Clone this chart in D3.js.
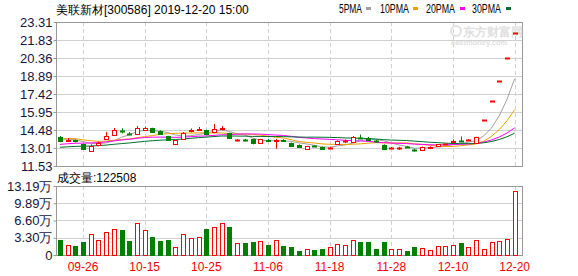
<!DOCTYPE html>
<html>
<head>
<meta charset="utf-8">
<script src="https://cdn.jsdelivr.net/npm/d3@7"></script>
<style>
  body { margin: 0; background: #fff; }
  svg { display: block; }
  text { font-family: "Liberation Sans", Arial, sans-serif; }
</style>
</head>
<body>
<div id="chart"></div>
<script>
const WIDTH = 578;
const HEIGHT = 276;

const PLOT = { left: 56, right: 522, barsRight: 518.5 };
const PRICE_BOX = { top: 22, bottom: 166 };
const VOL_BOX = { top: 186, bottom: 255 };

// trading days shown
const dates = [
  "09-23", "09-24", "09-25", "09-26", "09-27", "09-30", "10-08", "10-09", "10-10", "10-11",
  "10-14", "10-15", "10-16", "10-17", "10-18", "10-21", "10-22", "10-23", "10-24", "10-25",
  "10-28", "10-29", "10-30", "10-31", "11-01", "11-04", "11-05", "11-06", "11-07", "11-08",
  "11-11", "11-12", "11-13", "11-14", "11-15", "11-18", "11-19", "11-20", "11-21", "11-22",
  "11-25", "11-26", "11-27", "11-28", "11-29", "12-02", "12-03", "12-04", "12-05", "12-06",
  "12-09", "12-10", "12-11", "12-12", "12-13", "12-16", "12-17", "12-18", "12-19", "12-20"
];

const opens = [
  13.90, 13.62, 13.62, 13.30, 12.78, 13.20, 13.75, 14.06, 14.42, 14.20,
  14.17, 14.50, 14.62, 14.40, 13.95, 13.35, 13.72, 14.38, 14.50, 14.45,
  14.30, 14.60, 14.20, 13.62, 13.68, 13.70, 13.40, 13.65, 13.62, 13.65,
  13.40, 13.27, 12.90, 13.18, 13.10, 13.00, 13.38, 13.52, 13.50, 13.88,
  13.85, 13.58, 13.28, 12.98, 13.00, 13.12, 12.86, 12.84, 13.06, 13.12,
  13.26, 13.52, 13.58, 13.62, 13.40, 15.29, 16.82, 18.50, 20.35, 22.39
];
const highs = [
  13.98, 13.80, 13.70, 13.35, 13.30, 13.52, 14.30, 14.64, 14.62, 14.30,
  14.80, 14.75, 14.66, 14.45, 14.00, 13.68, 14.30, 14.60, 14.72, 14.50,
  14.96, 14.80, 14.25, 13.72, 13.75, 13.75, 13.75, 13.75, 13.75, 13.72,
  13.45, 13.30, 13.18, 13.22, 13.12, 13.10, 13.62, 13.70, 13.98, 14.10,
  13.90, 13.65, 13.30, 13.08, 13.10, 13.18, 12.95, 13.12, 13.14, 13.32,
  13.34, 13.70, 13.95, 13.72, 13.92, 15.29, 16.82, 18.50, 20.35, 22.39
];
const lows = [
  13.55, 13.55, 13.45, 12.85, 12.75, 13.15, 13.70, 14.00, 14.20, 14.05,
  14.15, 14.45, 14.25, 14.08, 13.58, 13.25, 13.70, 14.28, 14.40, 14.10,
  14.25, 14.45, 13.75, 13.55, 13.55, 13.30, 13.38, 13.52, 12.95, 13.50,
  13.12, 13.05, 12.88, 13.10, 12.88, 12.95, 13.35, 13.40, 13.45, 13.80,
  13.65, 13.45, 12.92, 12.90, 12.85, 13.02, 12.70, 12.80, 13.02, 13.10,
  13.22, 13.45, 13.54, 13.58, 13.38, 15.29, 16.82, 18.50, 20.35, 22.39
];
const closes = [
  13.60, 13.68, 13.57, 12.92, 13.18, 13.40, 14.00, 14.47, 14.38, 14.16,
  14.64, 14.66, 14.28, 14.12, 13.62, 13.65, 14.25, 14.44, 14.58, 14.15,
  14.55, 14.66, 13.80, 13.66, 13.64, 13.35, 13.72, 13.60, 13.68, 13.58,
  13.15, 13.10, 13.16, 13.14, 12.90, 13.04, 13.60, 13.56, 13.90, 13.86,
  13.70, 13.54, 12.94, 13.02, 13.04, 13.08, 12.82, 13.10, 13.12, 13.30,
  13.30, 13.58, 13.55, 13.66, 13.90, 15.29, 16.82, 18.50, 20.35, 22.39
];
// 1 = up day (red), 0 = down day (green)
const upDays = [
  0, 1, 0, 0, 1, 1, 1, 1, 0, 0, 1, 1, 0, 0, 0, 1, 1, 1, 1, 0,
  1, 1, 0, 1, 0, 0, 1, 0, 1, 0, 0, 0, 1, 0, 0, 1, 1, 1, 1, 0,
  0, 0, 0, 1, 1, 0, 0, 1, 1, 1, 1, 1, 0, 1, 1, 1, 1, 1, 1, 1
];
// volume in lots
const volumes = [
  28500, 18400, 17100, 24700, 39300, 28500, 43700, 48800, 46900, 26600,
  62100, 46900, 34200, 26600, 28500, 14600, 39300, 31700, 33600, 49500,
  52600, 62100, 53300, 22200, 22800, 24700, 26600, 19000, 27900, 17100,
  15200, 7600, 10800, 9500, 11400, 14600, 20900, 18400, 27900, 24700,
  24700, 11400, 24700, 10800, 10800, 7600, 14600, 12700, 8900, 16500,
  16500, 18400, 22200, 14600, 27900, 10800, 24700, 26000, 29800, 122508
];
// closes of the 29 sessions before 09-23, estimated from where the MA lines start
const priorCloses = [
  12.50, 12.55, 12.48, 12.60, 12.62, 12.55, 12.58, 12.65, 12.62, 12.65,
  12.70, 12.72, 12.80, 12.78, 12.85, 12.82, 12.90, 12.88, 12.95, 13.10,
  13.40, 13.70, 13.90, 13.85, 13.95, 13.80, 13.75, 13.70, 13.85
];

const priceTicks = [11.53, 13.01, 14.48, 15.95, 17.42, 18.89, 20.36, 21.83, 23.31];
const volTicks = [0, 33000, 66000, 98900, 131900];
const volTickLabels = ["0", "3.30万", "6.60万", "9.89万", "13.19万"];
const dateTicks = ["09-26", "10-15", "10-25", "11-06", "11-18", "11-28", "12-10", "12-20"];

const maPeriods = [5, 10, 20, 30];
const maNames = ["5PMA", "10PMA", "20PMA", "30PMA"];
const maColors = ["#a0a0a0", "#f0a000", "#ff00ff", "#00702e"];

const RED = "#ff0000";
const GREEN = "#008000";
const GRID = "#d0d0d0";
const FRAME_C = "#999999";
const LABEL_C = "#141440";

const svg = d3.select("#chart").append("svg")
  .attr("width", WIDTH)
  .attr("height", HEIGHT);

const X = d3.scaleBand()
  .domain(dates)
  .range([PLOT.left, PLOT.barsRight])
  .paddingInner(0.35)
  .paddingOuter(0.175);
const bw = X.bandwidth();
const cx = (d) => X(d) + bw / 2;

const Y = d3.scaleLinear().domain([11.53, 23.31]).range([PRICE_BOX.bottom, PRICE_BOX.top]);
const V = d3.scaleLinear().domain([0, 131900]).range([VOL_BOX.bottom, VOL_BOX.top]);

// ---------- grids ----------
function drawGrid(box, scale, ticks) {
  const g = svg.append("g");
  g.selectAll("line.h")
    .data(ticks)
    .enter()
    .append("line")
    .attr("x1", PLOT.left).attr("x2", PLOT.right)
    .attr("y1", (d) => Math.round(scale(d)) + 0.5)
    .attr("y2", (d) => Math.round(scale(d)) + 0.5)
    .attr("stroke", GRID);
  g.selectAll("line.v")
    .data(dateTicks)
    .enter()
    .append("line")
    .attr("x1", (d) => Math.round(cx(d)) + 0.5)
    .attr("x2", (d) => Math.round(cx(d)) + 0.5)
    .attr("y1", box.top).attr("y2", box.bottom)
    .attr("stroke", GRID)
    .attr("stroke-dasharray", "4,3");
  g.append("rect")
    .attr("x", PLOT.left + 0.5)
    .attr("y", box.top + 0.5)
    .attr("width", PLOT.right - PLOT.left)
    .attr("height", box.bottom - box.top)
    .attr("fill", "none")
    .attr("stroke", FRAME_C);
}
drawGrid(PRICE_BOX, Y, priceTicks);
drawGrid(VOL_BOX, V, volTicks);

// watermark
svg.append("text")
  .attr("x", 463).attr("y", 36)
  .attr("font-family", "'Noto Sans CJK SC', sans-serif")
  .attr("font-size", 12).attr("font-weight", "bold")
  .attr("fill", "#e0e0e0")
  .text("东方财富网");
svg.append("text")
  .attr("x", 451).attr("y", 45)
  .attr("font-size", 7.5).attr("font-weight", "bold")
  .attr("fill", "#e0e0e0")
  .text("eastmoney.com");
svg.append("circle")
  .attr("cx", 456).attr("cy", 31).attr("r", 5)
  .attr("fill", "none").attr("stroke", "#e0e0e0").attr("stroke-width", 2);

// ---------- axes ----------
const yAxis = svg.append("g")
  .attr("transform", "translate(" + (PLOT.left + 0.5) + ",0)")
  .call(d3.axisLeft(Y).tickValues(priceTicks).tickFormat((d) => d.toFixed(2)).tickSize(3).tickPadding(1));
yAxis.select(".domain").remove();
yAxis.selectAll("line").attr("stroke", FRAME_C);
yAxis.selectAll("text").attr("font-size", 13).attr("fill", LABEL_C).attr("font-family", "'Liberation Sans', Arial, sans-serif");

const vAxis = svg.append("g")
  .attr("transform", "translate(" + (PLOT.left + 0.5) + ",0)")
  .call(d3.axisLeft(V).tickValues(volTicks).tickFormat((d, i) => volTickLabels[i]).tickSize(3).tickPadding(1));
vAxis.select(".domain").remove();
vAxis.selectAll("line").attr("stroke", FRAME_C);
vAxis.selectAll("text").attr("font-size", 13).attr("fill", LABEL_C).attr("font-family", "'Liberation Sans', 'Noto Sans CJK SC', sans-serif");

svg.append("g")
  .selectAll("text")
  .data(dateTicks)
  .enter()
  .append("text")
  .attr("x", (d) => cx(d))
  .attr("y", 271)
  .attr("text-anchor", "middle")
  .attr("font-size", 12)
  .attr("fill", RED)
  .text((d) => d);

// ---------- moving averages ----------
const allCloses = priorCloses.concat(closes);
const offset = priorCloses.length;
maPeriods.forEach((n, k) => {
  const pts = dates.map((d, i) => {
    const j = i + offset;
    return [cx(d), d3.mean(allCloses.slice(j - n + 1, j + 1))];
  });
  svg.append("path")
    .datum(pts)
    .attr("fill", "none")
    .attr("stroke", maColors[k])
    .attr("stroke-width", 1)
    .attr("d", d3.line().x((p) => p[0]).y((p) => Y(p[1])));
});

// ---------- candles ----------
const candles = svg.append("g")
  .selectAll("g")
  .data(dates)
  .enter()
  .append("g");

const bodyH = (i) => Math.round(Math.abs(Y(opens[i]) - Y(closes[i])));

candles.append("line")
  .attr("x1", (d) => Math.round(cx(d)) + 0.5)
  .attr("x2", (d) => Math.round(cx(d)) + 0.5)
  .attr("y1", (d, i) => Y(highs[i]))
  .attr("y2", (d, i) => Y(lows[i]))
  .attr("stroke", (d, i) => upDays[i] ? RED : GREEN);

// real bodies
candles.filter((d, i) => bodyH(i) >= 1)
  .append("rect")
  .attr("x", (d) => Math.round(cx(d)) - 2 + 0.5)
  .attr("y", (d) => Math.round(Y(Math.max(opens[dates.indexOf(d)], closes[dates.indexOf(d)]))) + 0.5)
  .attr("width", 4)
  .attr("height", (d) => bodyH(dates.indexOf(d)))
  .attr("fill", (d) => upDays[dates.indexOf(d)] ? "#fff" : GREEN)
  .attr("stroke", (d) => upDays[dates.indexOf(d)] ? RED : GREEN);

// flat bodies (open == close) as a dash
candles.filter((d, i) => bodyH(i) < 1)
  .append("line")
  .attr("x1", (d) => Math.round(cx(d)) - 2)
  .attr("x2", (d) => Math.round(cx(d)) + 3)
  .attr("y1", (d) => Math.round(Y(closes[dates.indexOf(d)])) + 0.5)
  .attr("y2", (d) => Math.round(Y(closes[dates.indexOf(d)])) + 0.5)
  .attr("stroke", (d) => upDays[dates.indexOf(d)] ? RED : GREEN)
  .attr("stroke-width", 2);

// ---------- volume ----------
svg.append("g")
  .selectAll("rect")
  .data(dates)
  .enter()
  .append("rect")
  .attr("x", (d) => Math.round(cx(d)) - 2 + 0.5)
  .attr("y", (d, i) => Math.round(V(volumes[i])) + 0.5)
  .attr("width", 4)
  .attr("height", (d, i) => VOL_BOX.bottom - Math.round(V(volumes[i])))
  .attr("fill", (d, i) => upDays[i] ? "#fff" : GREEN)
  .attr("stroke", (d, i) => upDays[i] ? RED : GREEN);

// ---------- titles & legend ----------
svg.append("text")
  .attr("x", 56).attr("y", 14)
  .attr("font-family", "'Noto Sans CJK SC', sans-serif")
  .attr("font-size", 12)
  .attr("fill", "#000")
  .text("美联新材[300586] 2019-12-20 15:00");

svg.append("text")
  .attr("x", 57).attr("y", 182)
  .attr("font-family", "'Noto Sans CJK SC', sans-serif")
  .attr("font-size", 12)
  .attr("fill", "#000")
  .text("成交量:" + volumes[volumes.length - 1]);

const legendX = [339, 380, 426, 472];
const legendSwatchX = [366, 413, 460, 506];
const legend = svg.append("g")
  .selectAll("g")
  .data(maNames)
  .enter()
  .append("g");
legend.append("text")
  .attr("x", (d, i) => legendX[i]).attr("y", 13)
  .attr("font-family", "'Liberation Serif', serif")
  .attr("font-size", 12)
  .attr("fill", "#000")
  .attr("textLength", (d) => d.length * 6 - 1)
  .attr("lengthAdjust", "spacingAndGlyphs")
  .text((d) => d);
legend.append("rect")
  .attr("x", (d, i) => legendSwatchX[i])
  .attr("y", 7)
  .attr("width", 5).attr("height", 3)
  .attr("fill", (d, i) => maColors[i]);
</script>
</body>
</html>
